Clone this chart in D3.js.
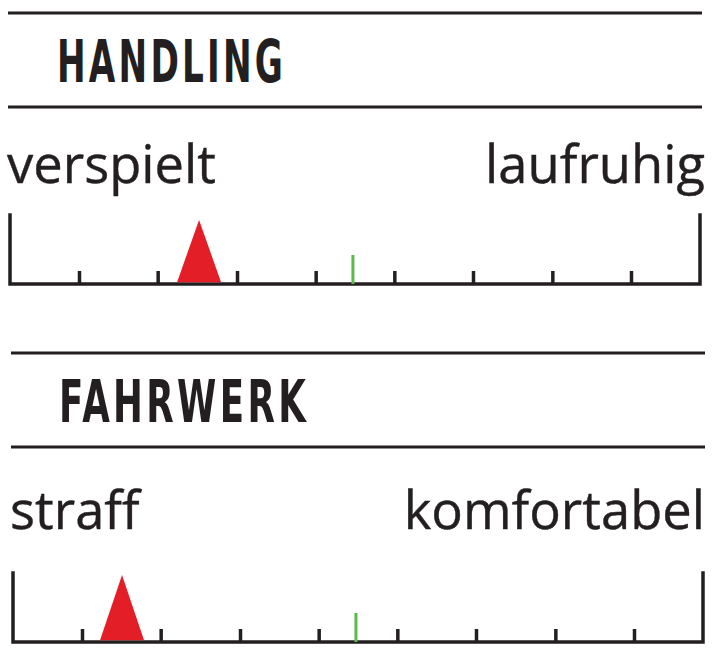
<!DOCTYPE html>
<html><head><meta charset="utf-8">
<script src="https://cdn.jsdelivr.net/npm/d3@7"></script>
<style>html,body{margin:0;padding:0;background:#fff;}svg{display:block;}</style>
</head><body>
<script>
// ---- data ----
const panels = ["HANDLING", "FAHRWERK"];
const leftLabels = ["verspielt", "straff"];
const rightLabels = ["laufruhig", "komfortabel"];
const markerValues = [2.74, 1.58];      // red triangle position (0..10 scale)
const referenceValues = [4.97, 4.97];   // green reference mark
const tickValues = [1, 2.14, 3.29, 4.43, 5.57, 6.71, 7.86, 9];

// ---- layout ----
const W = 712, H = 658;
const ink = "#231f20", red = "#e31e26", green = "#5cb94c";
const layout = [
  {dx: 0, top: 13, titleBase: 82, rule2: 107, labelBase: 183, axisBase: 284, endTop: 215},
  {dx: 3, top: 353, titleBase: 422, rule2: 447, labelBase: 529, axisBase: 642, endTop: 573}
];

const svg = d3.select("body").append("svg").attr("width", W).attr("height", H);

panels.forEach((name, i) => {
  const L = layout[i];
  const g = svg.append("g").attr("transform", `translate(${L.dx},0)`);
  const x = d3.scaleLinear().domain([0, 10]).range([10, 700]);

  // header rules
  [L.top, L.rule2].forEach(y => g.append("line")
    .attr("x1", 8).attr("x2", 702).attr("y1", y).attr("y2", y)
    .attr("stroke", ink).attr("stroke-width", 3));

  // title
  const ls = 5;
  const t = g.append("text").text(name)
    .attr("font-family", "'Liberation Sans Narrow','DejaVu Sans Condensed',sans-serif")
    .attr("font-weight", "bold").attr("font-size", 59)
    .attr("letter-spacing", ls).attr("fill", ink)
    .attr("x", 0).attr("y", 0);
  const len = t.node().getComputedTextLength() - ls;
  const target = i === 0 ? 226 : 247;
  t.attr("transform", `translate(${57 - L.dx + (i ? 2 : 0)},${L.titleBase}) scale(${target / len},1)`);

  // end labels
  g.append("text").text(leftLabels[i])
    .attr("font-family", "'Open Sans',sans-serif").attr("font-size", 52.5)
    .attr("fill", ink).attr("stroke", ink).attr("stroke-width", 0.4)
    .attr("x", 7 + (i ? 3 : 0) - L.dx).attr("y", L.labelBase);
  g.append("text").text(rightLabels[i])
    .attr("font-family", "'Open Sans',sans-serif").attr("font-size", 52.5)
    .attr("fill", ink).attr("stroke", ink).attr("stroke-width", 0.4)
    .attr("text-anchor", "end").attr("x", 705 - L.dx).attr("y", L.labelBase);

  // axis
  const axisG = g.append("g").attr("transform", `translate(0,${L.axisBase})`);
  const axis = d3.axisBottom(x).tickValues(tickValues).tickSize(-13).tickFormat("").tickSizeOuter(0);
  axisG.call(axis);
  axisG.select(".domain").remove();
  axisG.selectAll(".tick line").attr("stroke", ink).attr("stroke-width", 3.5);

  // baseline and end posts
  const path = d3.path();
  path.moveTo(x(0), L.endTop - L.axisBase);
  path.lineTo(x(0), 0);
  path.lineTo(x(10), 0);
  path.lineTo(x(10), L.endTop - L.axisBase);
  axisG.append("path").attr("d", path.toString())
    .attr("fill", "none").attr("stroke", ink).attr("stroke-width", 3.5)
    .attr("stroke-linejoin", "miter").attr("stroke-linecap", "square");

  // green reference
  axisG.append("line")
    .attr("x1", x(referenceValues[i])).attr("x2", x(referenceValues[i]))
    .attr("y1", -29).attr("y2", 0)
    .attr("stroke", green).attr("stroke-width", 3);

  // red triangle
  const cx = x(markerValues[i]);
  const tri = d3.path();
  tri.moveTo(cx, -64 - (i ? 3 : 0));
  tri.lineTo(cx + 22, -1.75);
  tri.lineTo(cx - 22, -1.75);
  tri.closePath();
  axisG.append("path").attr("d", tri.toString()).attr("fill", red);
});
</script>
</body></html>
